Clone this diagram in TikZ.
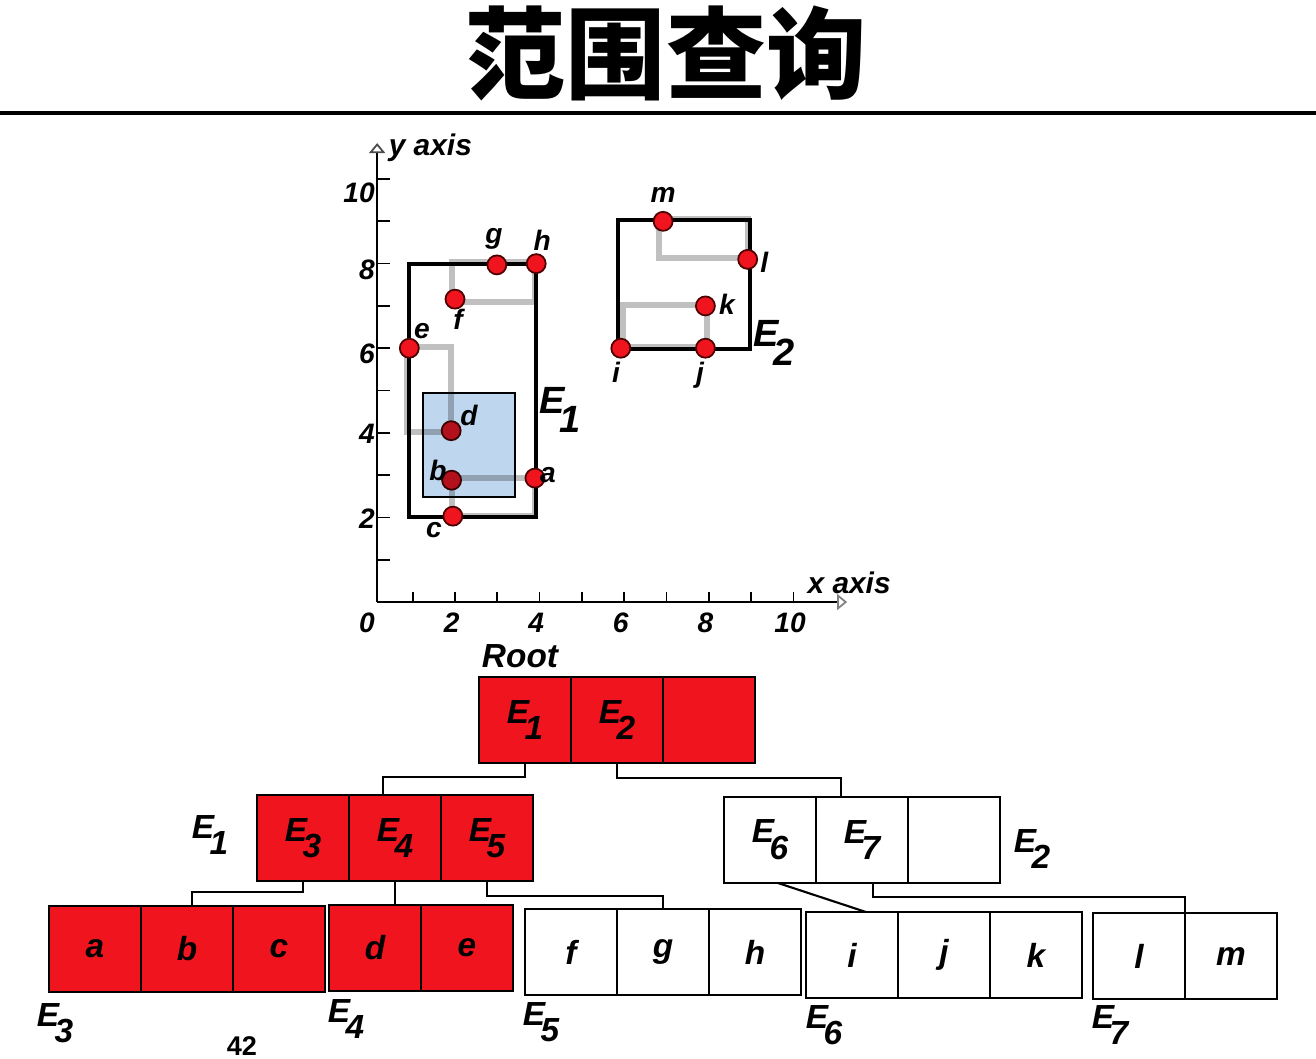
\documentclass[tikz,border=0pt]{standalone}
\usepackage{fontspec}
\setmainfont{Liberation Sans}
\newfontfamily\cjk{Noto Sans CJK SC}
\usetikzlibrary{arrows.meta,positioning}
\definecolor{hitred}{HTML}{F0141E}
\definecolor{mbrgray}{HTML}{C0C0C0}
\definecolor{queryblue}{HTML}{BED7EE}
\newcommand{\Ent}[1]{E\kern-0.13em\raisebox{-0.5em}{#1}}

\begin{document}
\begin{tikzpicture}[
	box/.style={draw,line width=0.8pt,fill=white,minimum width=0.92cm,minimum height=0.86cm,inner sep=0pt,outer sep=0pt,font=\fontsize{9.5}{10}\selectfont\bfseries\itshape},
	hit/.style={box,fill=hitred},
	tag/.style={inner sep=0pt,font=\fontsize{9.5}{10}\selectfont\bfseries\itshape},
	link/.style={line width=0.6pt},
	mbr/.style={draw=mbrgray,line width=1.7pt},
	mbb/.style={draw,line width=1.1pt},
	pt/.style={circle,draw=black!70!red,line width=0.5pt,fill=hitred,minimum size=0.19cm,inner sep=0pt},
	lab/.style={inner sep=0pt,font=\fontsize{8}{9}\selectfont\bfseries\itshape},
	axis/.style={line width=0.5pt}
	]
	\useasboundingbox (0,0) rectangle (13.16,-10.58);
	% title
	\node[font=\cjk\bfseries\fontsize{28.5}{30}\selectfont] (title) at (6.66,-0.53) {范围查询};
	\draw[line width=0.9pt] (0,-1.13) -- (13.16,-1.13);
	% the plane
	\begin{scope}[shift={(3.67,-6.02)},x=0.423cm,y=0.423cm]
		% leaf MBRs
		\draw[mbr] (2,2.03) rectangle (3.97,2.93);
		\draw[mbr] (0.95,4.02) rectangle (1.99,6.03);
		\draw[mbr] (2,7.1) rectangle (3.97,8.05);
		\draw[mbr] (6.05,6.03) rectangle (8.04,7.02);
		\draw[mbr] (6.9,8.13) rectangle (9,9.05);
		% E1 and E2
		\draw[mbb] (1,2) rectangle (4,8);
		\draw[mbb] (5.94,5.98) rectangle (9.05,9.03);
		% axes
		\draw[axis,-{Triangle[open,length=1mm,width=1.6mm,color=gray!60!black]}] (0.24,0) -- (0.24,10.85);
		\draw[axis,-{Triangle[open,length=1mm,width=1.6mm,color=gray]}] (0.24,0) -- (11.35,0);
		\foreach \v in {1,...,10} {
			\draw[axis] (0.24,\v) -- (0.55,\v);
			\draw[axis] (\v+0.08,0) -- (\v+0.08,0.24);
		}
		\foreach \v/\h in {2/1.96,4/3.97,6/5.86,8/7.85,10/9.67}
			\node[lab,anchor=east] at (0.2,\h) {\v};
		\foreach \v in {0,2,...,10}
			\node[lab] at (\v,-0.5) {\v};
		\node[lab,font=\fontsize{8.5}{9}\selectfont\bfseries\itshape,anchor=west] (yax) at (0.5,10.75) {y axis};
		\node[lab,font=\fontsize{8.5}{9}\selectfont\bfseries\itshape,anchor=west] (xax) at (10.4,0.45) {x axis};
		% objects
		\foreach \n/\x/\y/\lx/\ly in {a/3.97/2.93/4.28/3.0,b/2/2.88/1.68/3.1,c/2.03/2.03/1.58/1.7,
			d/1.99/4.05/2.41/4.4,e/1/6/1.3/6.41,f/2.08/7.16/2.15/6.69,g/3.07/7.97/3.0/8.58,
			h/4/8/4.14/8.56,i/6/6/5.89/5.44,j/8/6/7.87/5.37,k/8/7/8.51/7.04,l/9/8.1/9.39/8.04,m/7/9/7.0/9.62} {
			\node[pt] (p\n) at (\x,\y) {};
			\node[lab] (t\n) at (\lx,\ly) {\n};
		}
		\node[lab,font=\fontsize{10.8}{12}\selectfont\bfseries\itshape] (tE1) at (4.56,4.54) {\Ent{1}};
		\node[lab,font=\fontsize{10.8}{12}\selectfont\bfseries\itshape] (tE2) at (9.62,6.12) {\Ent{2}};
		% query window
		\fill[queryblue,blend mode=multiply] (1.32,2.48) rectangle (3.5,4.94);
		\draw[line width=0.4pt] (1.32,2.48) rectangle (3.5,4.94);
	\end{scope}
	% the R-tree
	\node[hit] (r1) at (5.25,-7.20) {\Ent{1}};
	\node[hit,right=0pt of r1] (r2) {\Ent{2}};
	\node[hit,right=0pt of r2] (r3) {};
	\node[tag] (lroot) at (5.20,-6.56) {Root};
	
	\node[hit] (e1a) at (3.03,-8.38) {\Ent{3}};
	\node[hit,right=0pt of e1a] (e1b) {\Ent{4}};
	\node[hit,right=0pt of e1b] (e1c) {\Ent{5}};
	\node[tag] (lE1) at (2.10,-8.35) {\Ent{1}};
	
	\node[box] (f1) at (7.70,-8.40) {\Ent{6}};
	\node[box,right=0pt of f1] (f2) {\Ent{7}};
	\node[box,right=0pt of f2] (f3) {};
	\node[tag] (lE2) at (10.32,-8.49) {\Ent{2}};
	
	\node[hit] (l3a) at (0.95,-9.49) {a};
	\node[hit,right=0pt of l3a] (l3b) {b};
	\node[hit,right=0pt of l3b] (l3c) {c};
	\node[hit] (l4a) at (3.75,-9.48) {d};
	\node[hit,right=0pt of l4a] (l4b) {e};
	\node[box] (l5a) at (5.71,-9.52) {f};
	\node[box,right=0pt of l5a] (l5b) {g};
	\node[box,right=0pt of l5b] (l5c) {h};
	\node[box] (l6a) at (8.52,-9.55) {i};
	\node[box,right=0pt of l6a] (l6b) {j};
	\node[box,right=0pt of l6b] (l6c) {k};
	\node[box] (l7a) at (11.39,-9.56) {l};
	\node[box,right=0pt of l7a] (l7b) {m};
	
	\node[tag] (lE3) at (0.55,-10.23) {\Ent{3}};
	\node[tag] (lE4) at (3.46,-10.19) {\Ent{4}};
	\node[tag] (lE5) at (5.41,-10.22) {\Ent{5}};
	\node[tag] (lE6) at (8.24,-10.25) {\Ent{6}};
	\node[tag] (lE7) at (11.10,-10.25) {\Ent{7}};
	\node[font=\fontsize{7.7}{8}\selectfont\bfseries,inner sep=0pt] (pgno) at (2.42,-10.46) {42};
	
	% parent-child links
	\draw[link] (r1.south) -- ++(0,-0.14) -| ([xshift=-0.12cm]e1b.north);
	\draw[link] (r2.south) -- ++(0,-0.15) -| ([xshift=-0.21cm]f2.north);
	\draw[link] (e1a.south) -- ++(0,-0.11) -| ([xshift=0.05cm]l3b.north);
	\draw[link] (e1b.south) -- (e1b.south |- l4a.north);
	\draw[link] (e1c.south) -- ++(0,-0.15) -| (l5b.north);
	\draw[link] ([xshift=0.08cm]f1.south) -- ([xshift=0.14cm]l6a.north);
	\draw[link] ([xshift=0.11cm]f2.south) -- ++(0,-0.14) -| (l7a.north east);
\end{tikzpicture}
\end{document}
